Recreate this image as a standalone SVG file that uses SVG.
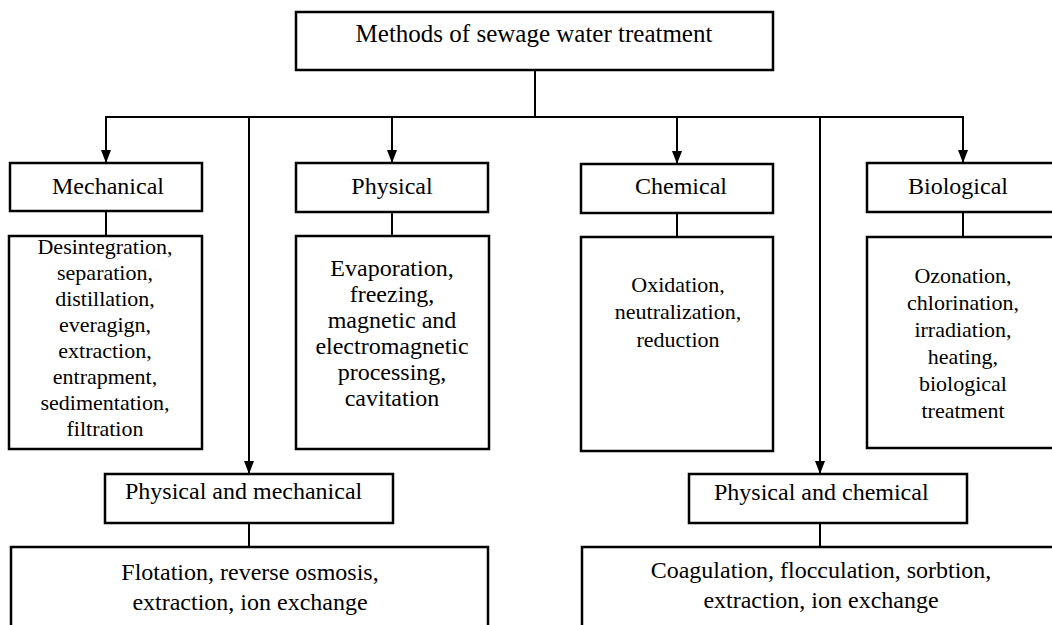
<svg xmlns="http://www.w3.org/2000/svg" width="1052" height="625" viewBox="0 0 1052 625">
  <style>
    .box { fill: #ffffff; stroke: #000000; stroke-width: 2.5; }
    .ln { fill: none; stroke: #000000; stroke-width: 2; }
    .arr { fill: none; stroke: #000000; stroke-width: 2; marker-end: url(#ah); }
    text { font-family: "Liberation Serif", "Times New Roman", serif; fill: #000000; }
    .t25 { font-size: 25px; text-anchor: middle; }
    .t24 { font-size: 24px; text-anchor: middle; }
    .t24s { font-size: 24px; text-anchor: start; }
    .t22 { font-size: 22px; text-anchor: middle; }
  </style>
  <defs>
    <marker id="ah" viewBox="0 0 13 10" refX="13" refY="5" markerWidth="13" markerHeight="10" markerUnits="userSpaceOnUse" orient="auto">
      <path d="M0,0 L13,5 L0,10 Z" fill="#000000"/>
    </marker>
  </defs>
  <rect width="1052" height="625" fill="#ffffff"/>

  <g id="connectors">
    <line class="ln" x1="535" y1="70" x2="535" y2="117"/>
    <line class="ln" x1="105" y1="117" x2="964" y2="117"/>
    <line class="arr" x1="106" y1="117" x2="106" y2="163"/>
    <line class="arr" x1="392" y1="117" x2="392" y2="163"/>
    <line class="arr" x1="677" y1="117" x2="677" y2="164"/>
    <line class="arr" x1="963" y1="117" x2="963" y2="163"/>
    <line class="arr" x1="249" y1="117" x2="249" y2="474"/>
    <line class="arr" x1="820" y1="117" x2="820" y2="474"/>
    <line class="ln" x1="106" y1="211" x2="106" y2="236"/>
    <line class="ln" x1="392" y1="212" x2="392" y2="236"/>
    <line class="ln" x1="677" y1="213" x2="677" y2="237"/>
    <line class="ln" x1="963" y1="212" x2="963" y2="237"/>
    <line class="ln" x1="249" y1="523" x2="249" y2="547"/>
    <line class="ln" x1="820" y1="523" x2="820" y2="547"/>
  </g>

  <g id="root">
    <rect class="box" x="296" y="12" width="477" height="58"/>
    <text class="t25" x="534" y="42">Methods of sewage water treatment</text>
  </g>

  <g id="mechanical">
    <rect class="box" x="10" y="163" width="192" height="48"/>
    <text class="t24" x="108" y="194">Mechanical</text>
  </g>
  <g id="physical">
    <rect class="box" x="296" y="163" width="192" height="49"/>
    <text class="t24" x="392" y="194">Physical</text>
  </g>
  <g id="chemical">
    <rect class="box" x="581" y="164" width="192" height="49"/>
    <text class="t24" x="681" y="194">Chemical</text>
  </g>
  <g id="biological">
    <rect class="box" x="867" y="163" width="200" height="49"/>
    <text class="t24" x="958" y="194">Biological</text>
  </g>

  <g id="mechanical-methods">
    <rect class="box" x="9" y="236" width="193" height="213"/>
    <text class="t22" x="105" y="254">Desintegration,</text>
    <text class="t22" x="105" y="280">separation,</text>
    <text class="t22" x="105" y="306">distillation,</text>
    <text class="t22" x="105" y="332">everagign,</text>
    <text class="t22" x="105" y="358">extraction,</text>
    <text class="t22" x="105" y="384">entrapment,</text>
    <text class="t22" x="105" y="410">sedimentation,</text>
    <text class="t22" x="105" y="436">filtration</text>
  </g>
  <g id="physical-methods">
    <rect class="box" x="296" y="236" width="193" height="213"/>
    <text class="t24" x="392" y="276">Evaporation,</text>
    <text class="t24" x="392" y="302">freezing,</text>
    <text class="t24" x="392" y="328">magnetic and</text>
    <text class="t24" x="392" y="354">electromagnetic</text>
    <text class="t24" x="392" y="380">processing,</text>
    <text class="t24" x="392" y="406">cavitation</text>
  </g>
  <g id="chemical-methods">
    <rect class="box" x="581" y="237" width="192" height="214"/>
    <text class="t22" x="678" y="292">Oxidation,</text>
    <text class="t22" x="678" y="319">neutralization,</text>
    <text class="t22" x="678" y="347">reduction</text>
  </g>
  <g id="biological-methods">
    <rect class="box" x="867" y="237" width="200" height="211"/>
    <text class="t22" x="963" y="283">Ozonation,</text>
    <text class="t22" x="963" y="310">chlorination,</text>
    <text class="t22" x="963" y="337">irradiation,</text>
    <text class="t22" x="963" y="364">heating,</text>
    <text class="t22" x="963" y="391">biological</text>
    <text class="t22" x="963" y="418">treatment</text>
  </g>

  <g id="physical-mechanical">
    <rect class="box" x="105" y="474" width="288" height="49"/>
    <text class="t24s" x="125" y="499">Physical and mechanical</text>
  </g>
  <g id="physical-chemical">
    <rect class="box" x="689" y="474" width="278" height="49"/>
    <text class="t24s" x="714" y="500">Physical and chemical</text>
  </g>

  <g id="physical-mechanical-methods">
    <rect class="box" x="11" y="547" width="477" height="100"/>
    <text class="t24" x="250" y="580">Flotation, reverse osmosis,</text>
    <text class="t24" x="250" y="610">extraction, ion exchange</text>
  </g>
  <g id="physical-chemical-methods">
    <rect class="box" x="582" y="547" width="490" height="100"/>
    <text class="t24" x="821" y="578">Coagulation, flocculation, sorbtion,</text>
    <text class="t24" x="821" y="608">extraction, ion exchange</text>
  </g>
</svg>
